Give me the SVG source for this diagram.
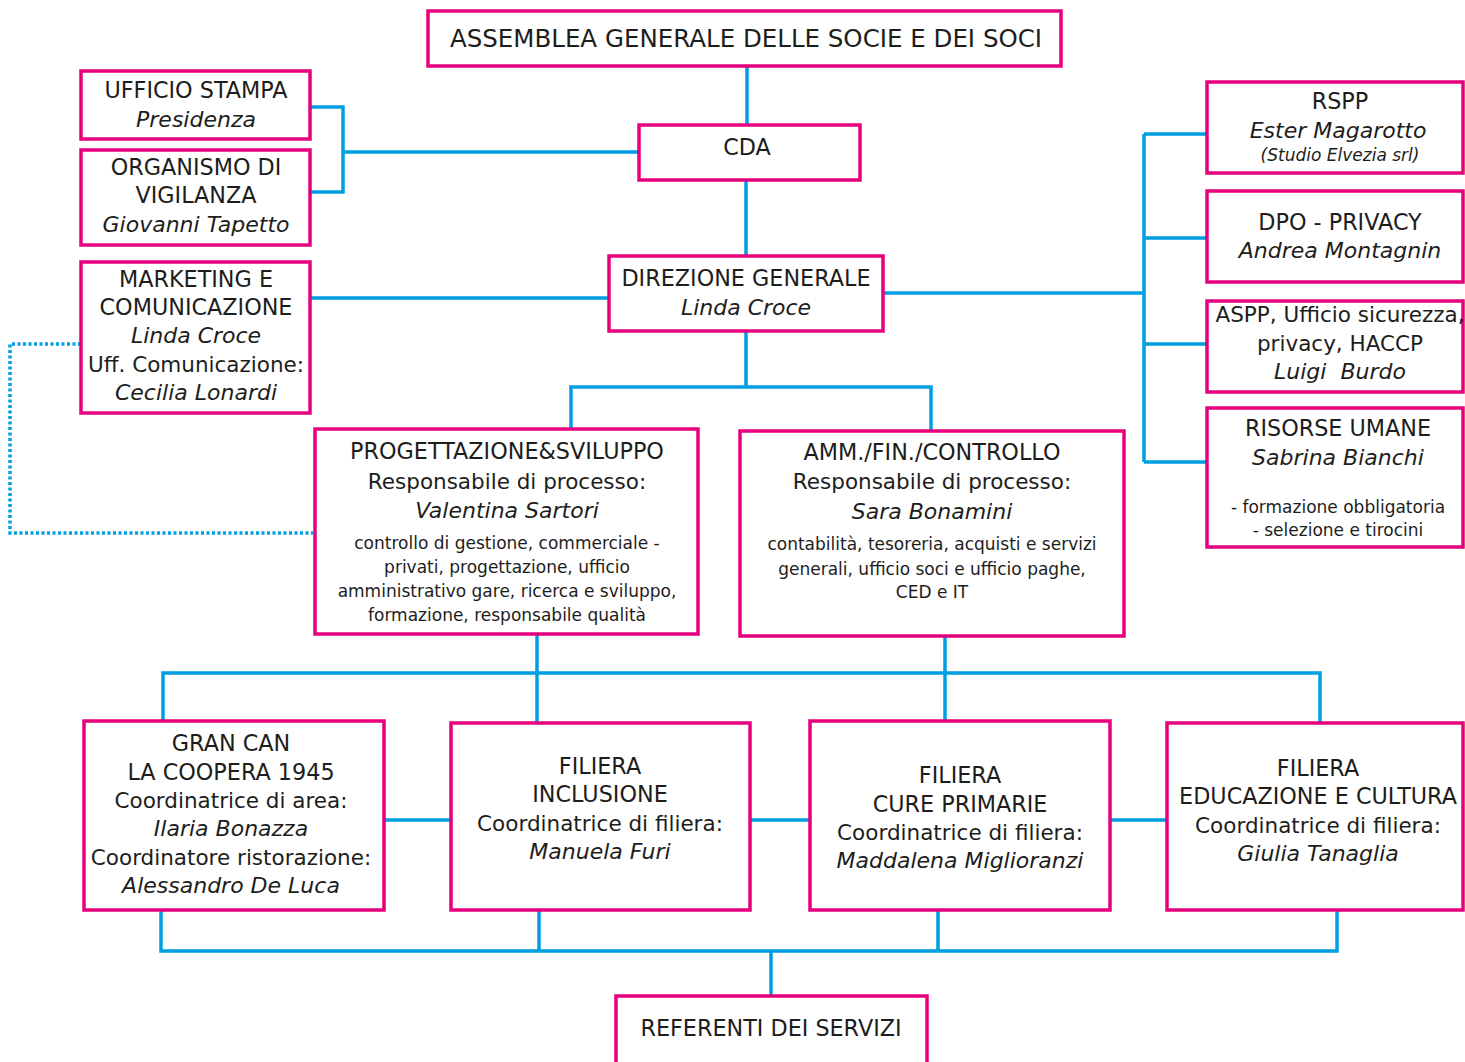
<svg xmlns="http://www.w3.org/2000/svg" width="1465" height="1062" viewBox="0 0 1465 1062">
<style>
.box{fill:#fff;stroke:#E6007E;stroke-width:3.5}
.ln{fill:none;stroke:#009FE3;stroke-width:3.5}
.dot{fill:none;stroke:#009FE3;stroke-width:3.5;stroke-dasharray:3 2.5}
text{font-family:"DejaVu Sans","Liberation Sans",sans-serif;fill:#1d1d1b;text-anchor:middle;font-size:21.5px}
.c{font-size:22.3px}
.it{font-style:italic;font-size:22px}
.s{font-size:17px}
.h{font-size:24.5px}
</style>
<rect width="1465" height="1062" fill="#fff"/>
<g id="connectors">
<path class="ln" d="M747 66V125M746 180V256"/>
<path class="ln" d="M310 107H343V192H310M343 152H639"/>
<path class="ln" d="M310 298H609"/>
<path class="dot" d="M81 344H10V533H313"/>
<path class="ln" d="M746 331V387M571 429V387H931V431"/>
<path class="ln" d="M883 293H1144M1144 134V462M1144 134H1206M1144 238H1206M1144 344H1206M1144 462H1206"/>
<path class="ln" d="M537 634V673M945 636V721M163 721V673H1320V723M537 673V723"/>
<path class="ln" d="M384 820H451M750 820H810M1110 820H1167"/>
<path class="ln" d="M161 910V951H1337V910M539 910V951M938 910V951M771 951V996"/>
</g>
<g id="assemblea"><rect class="box" x="428" y="11" width="633" height="55"/><text class="h" x="746" y="47">ASSEMBLEA GENERALE DELLE SOCIE E DEI SOCI</text></g>
<g id="cda"><rect class="box" x="639" y="125" width="221" height="55"/><text class="c" x="747" y="155">CDA</text></g>
<g id="direzione"><rect class="box" x="609" y="256" width="274" height="75"/><text class="c" x="746" y="286">DIREZIONE GENERALE</text><text class="it" x="746" y="315">Linda Croce</text></g>
<g id="ufficio-stampa"><rect class="box" x="81" y="71" width="229" height="68"/><text class="c" x="196" y="98">UFFICIO STAMPA</text><text class="it" x="196" y="127">Presidenza</text></g>
<g id="organismo"><rect class="box" x="81" y="150" width="229" height="95"/><text class="c" x="196" y="175">ORGANISMO DI</text><text class="c" x="196" y="203">VIGILANZA</text><text class="it" x="196" y="232">Giovanni Tapetto</text></g>
<g id="marketing"><rect class="box" x="81" y="262" width="229" height="151"/><text class="c" x="196" y="287">MARKETING E</text><text class="c" x="196" y="315">COMUNICAZIONE</text><text class="it" x="196" y="343">Linda Croce</text><text x="196" y="372">Uff. Comunicazione:</text><text class="it" x="196" y="400">Cecilia Lonardi</text></g>
<g id="progettazione"><rect class="box" x="315" y="429" width="383" height="205"/><text class="c" x="507" y="459">PROGETTAZIONE&amp;SVILUPPO</text><text x="507" y="489">Responsabile di processo:</text><text class="it" x="507" y="518">Valentina Sartori</text><text class="s" x="507" y="549">controllo di gestione, commerciale -</text><text class="s" x="507" y="573">privati, progettazione, ufficio</text><text class="s" x="507" y="597">amministrativo gare, ricerca e sviluppo,</text><text class="s" x="507" y="621">formazione, responsabile qualità</text></g>
<g id="amministrazione"><rect class="box" x="740" y="431" width="384" height="205"/><text class="c" x="932" y="460">AMM./FIN./CONTROLLO</text><text x="932" y="489">Responsabile di processo:</text><text class="it" x="932" y="519">Sara Bonamini</text><text class="s" x="932" y="550">contabilità, tesoreria, acquisti e servizi</text><text class="s" x="932" y="575">generali, ufficio soci e ufficio paghe,</text><text class="s" x="932" y="598">CED e IT</text></g>
<g id="rspp"><rect class="box" x="1207" y="82" width="256" height="91"/><text class="c" x="1340" y="109">RSPP</text><text class="it" x="1338" y="138">Ester Magarotto</text><text class="it s" x="1340" y="161">(Studio Elvezia srl)</text></g>
<g id="dpo"><rect class="box" x="1207" y="191" width="256" height="91"/><text class="c" x="1340" y="230">DPO - PRIVACY</text><text class="it" x="1340" y="258">Andrea Montagnin</text></g>
<g id="aspp"><rect class="box" x="1207" y="301" width="256" height="91"/><text x="1340" y="322">ASPP, Ufficio sicurezza,</text><text x="1340" y="351">privacy, HACCP</text><text class="it" x="1340" y="379" xml:space="preserve">Luigi  Burdo</text></g>
<g id="risorse-umane"><rect class="box" x="1207" y="408" width="256" height="139"/><text class="c" x="1338" y="436">RISORSE UMANE</text><text class="it" x="1338" y="465">Sabrina Bianchi</text><text class="s" x="1338" y="513">- formazione obbligatoria</text><text class="s" x="1338" y="536">- selezione e tirocini</text></g>
<g id="gran-can"><rect class="box" x="84" y="721" width="300" height="189"/><text class="c" x="231" y="751">GRAN CAN</text><text class="c" x="231" y="780">LA COOPERA 1945</text><text x="231" y="808">Coordinatrice di area:</text><text class="it" x="231" y="836">Ilaria Bonazza</text><text x="231" y="865">Coordinatore ristorazione:</text><text class="it" x="231" y="893">Alessandro De Luca</text></g>
<g id="inclusione"><rect class="box" x="451" y="723" width="299" height="187"/><text class="c" x="600" y="774">FILIERA</text><text class="c" x="600" y="802">INCLUSIONE</text><text x="600" y="831">Coordinatrice di filiera:</text><text class="it" x="600" y="859">Manuela Furi</text></g>
<g id="cure-primarie"><rect class="box" x="810" y="721" width="300" height="189"/><text class="c" x="960" y="783">FILIERA</text><text class="c" x="960" y="812">CURE PRIMARIE</text><text x="960" y="840">Coordinatrice di filiera:</text><text class="it" x="960" y="868">Maddalena Miglioranzi</text></g>
<g id="educazione"><rect class="box" x="1167" y="723" width="296" height="187"/><text class="c" x="1318" y="776">FILIERA</text><text class="c" x="1318" y="804">EDUCAZIONE E CULTURA</text><text x="1318" y="833">Coordinatrice di filiera:</text><text class="it" x="1318" y="861">Giulia Tanaglia</text></g>
<g id="referenti"><rect class="box" x="616" y="996" width="311" height="80"/><text class="c" x="771" y="1036">REFERENTI DEI SERVIZI</text></g>
</svg>
